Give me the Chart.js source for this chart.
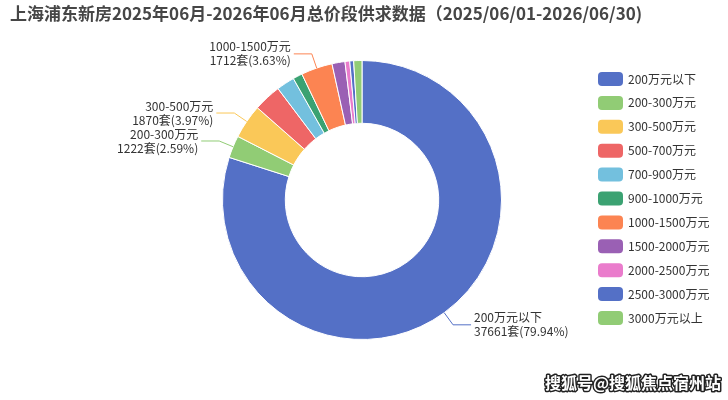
<!DOCTYPE html>
<html>
<head>
<meta charset="utf-8">
<script src="https://cdn.jsdelivr.net/npm/chart.js@4"></script>
<style>
  html, body { margin: 0; padding: 0; background: #fff; }
  #wrap { width: 728px; height: 400px; }
</style>
</head>
<body>
<div id="wrap"><canvas id="chart" width="728" height="400"></canvas></div>
<script>
const titleText = '上海浦东新房2025年06月-2026年06月总价段供求数据（2025/06/01-2026/06/30)';
const categories = ['200万元以下', '200-300万元', '300-500万元', '500-700万元', '700-900万元', '900-1000万元',
                    '1000-1500万元', '1500-2000万元', '2000-2500万元', '2500-3000万元', '3000万元以上'];
const counts = [37661, 1222, 1870, 1514, 989, 518, 1712, 707, 259, 212, 448];
const colors = ['#5470c6', '#91cc75', '#fac858', '#ee6666', '#73c0de', '#3ba272',
                '#fc8452', '#9a60b4', '#ea7ccc', '#5470c6', '#91cc75'];
const labelled = [0, 1, 2, 6];

const FONT = '"Noto Sans CJK SC", "Noto Sans", sans-serif';
const total = counts.reduce((s, v) => s + v, 0);

// title, legend, watermark
const decorPlugin = {
    id: 'decor',
    afterDraw(chart) {
        const ctx = chart.ctx;
        ctx.save();
        ctx.fillStyle = '#464646';
        ctx.font = 'bold 17px ' + FONT;
        ctx.textBaseline = 'middle';
        ctx.textAlign = 'left';
        ctx.fillText(titleText, 10, 14);

        ctx.font = '12px ' + FONT;
        categories.forEach((cat, i) => {
            const y = 79 + i * 23.9;
            ctx.fillStyle = colors[i];
            ctx.beginPath();
            ctx.roundRect(598, y - 7, 25, 14, 4);
            ctx.fill();
            ctx.fillStyle = '#333';
            ctx.fillText(cat, 628, y);
        });

        ctx.font = 'bold 16px ' + FONT;
        ctx.lineWidth = 3;
        ctx.strokeStyle = '#222';
        ctx.lineJoin = 'round';
        ctx.strokeText('搜狐号@搜狐焦点宿州站', 545, 383);
        ctx.fillStyle = '#fff';
        ctx.fillText('搜狐号@搜狐焦点宿州站', 545, 383);
        ctx.restore();
    }
};

// outside labels with leader lines
const labelPlugin = {
    id: 'sliceLabels',
    afterDatasetsDraw(chart) {
        const ctx = chart.ctx;
        const meta = chart.getDatasetMeta(0);
        ctx.save();
        ctx.font = '12px ' + FONT;
        ctx.textBaseline = 'middle';
        labelled.forEach(i => {
            const arc = meta.data[i];
            const mid = (arc.startAngle + arc.endAngle) / 2;
            const r = arc.outerRadius;
            const cos = Math.cos(mid), sin = Math.sin(mid);
            const x0 = arc.x + cos * r, y0 = arc.y + sin * r;
            const x1 = arc.x + cos * (r + 15), y1 = arc.y + sin * (r + 15);
            const dir = cos >= 0 ? 1 : -1;
            const x2 = x1 + dir * 18;
            ctx.strokeStyle = colors[i];
            ctx.lineWidth = 1;
            ctx.beginPath();
            ctx.moveTo(x0, y0);
            ctx.lineTo(x1, y1);
            ctx.lineTo(x2, y1);
            ctx.stroke();
            ctx.fillStyle = '#333';
            ctx.textAlign = dir > 0 ? 'left' : 'right';
            const pct = (counts[i] / total * 100).toFixed(2);
            ctx.fillText(categories[i], x2 + dir * 3, y1 - 7);
            ctx.fillText(counts[i] + '套(' + pct + '%)', x2 + dir * 3, y1 + 7);
        });
        ctx.restore();
    }
};

new Chart(document.getElementById('chart'), {
    type: 'doughnut',
    data: {
        labels: categories,
        datasets: [{
            data: counts,
            backgroundColor: colors,
            borderColor: '#fff',
            borderWidth: 1
        }]
    },
    options: {
        responsive: false,
        animation: false,
        cutout: '55%',
        layout: { padding: { left: 222, right: 226, top: 60, bottom: 60 } },
        plugins: {
            legend: { display: false },
            tooltip: { enabled: false }
        }
    },
    plugins: [labelPlugin, decorPlugin]
});
</script>
</body>
</html>
